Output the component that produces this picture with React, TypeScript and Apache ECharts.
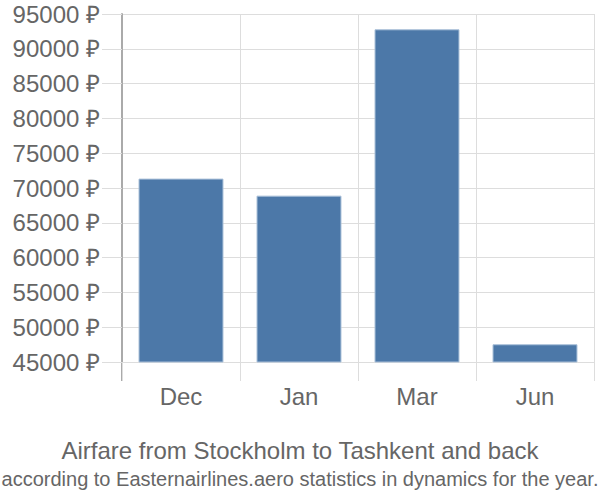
import React, { useEffect, useRef } from "react";
import * as echarts from "echarts";

const categories = ["Dec", "Jan", "Mar", "Jun"];
const prices = [71350, 68900, 92800, 47550];
const yMin = 45000;
const yMax = 95000;
const yStep = 5000;
const titleText = "Airfare from Stockholm to Tashkent and back";
const subtitleText = "according to Easternairlines.aero statistics in dynamics for the year.";

export default function App() {
  const ref = useRef<HTMLDivElement>(null);
  useEffect(() => {
    if (!ref.current) return;
    document.body.style.margin = "0";
    const chart = echarts.init(ref.current, null, { renderer: "svg" });
    const font = "Liberation Sans, Arial, sans-serif";
    chart.setOption({
      animation: false,
      title: [
        {
          text: titleText,
          left: "center",
          top: 433,
          textStyle: { fontSize: 24, fontWeight: "normal", color: "#666", fontFamily: font },
        },
        {
          text: subtitleText,
          left: "center",
          top: 464,
          textStyle: { fontSize: 20, fontWeight: "normal", color: "#666", fontFamily: font },
        },
      ],
      grid: { left: 122, right: 6, top: 14, bottom: 138, containLabel: false },
      xAxis: {
        type: "category",
        data: categories,
        axisLine: { show: true, lineStyle: { color: "#ddd" } },
        axisTick: { show: true, length: 19, lineStyle: { color: "#ddd" } },
        splitLine: { show: true, lineStyle: { color: "#ddd" } },
        axisLabel: { fontSize: 24, color: "#666", fontFamily: font, margin: 22 },
      },
      yAxis: {
        type: "value",
        min: yMin,
        max: yMax,
        interval: yStep,
        axisLine: { show: true, lineStyle: { color: "#aaa", width: 2 } },
        axisTick: { show: true, length: 20, lineStyle: { color: "#ddd" } },
        splitLine: { show: true, lineStyle: { color: "#ddd" } },
        axisLabel: {
          fontSize: 24,
          color: "#666",
          fontFamily: font,
          margin: 22,
          formatter: (v: number) => v + " ₽",
        },
      },
      graphic: [
        {
          type: "line",
          shape: { x1: 122, y1: 362, x2: 122, y2: 381 },
          style: { stroke: "#aaa", lineWidth: 2 },
        },
      ],
      series: [
        {
          type: "bar",
          data: prices,
          barWidth: "72%",
          itemStyle: { color: "#4c78a8", borderColor: "#a9bfd8", borderWidth: 1 },
        },
      ],
    });
    return () => chart.dispose();
  }, []);
  return <div ref={ref} style={{ width: 600, height: 500 }} />;
}
